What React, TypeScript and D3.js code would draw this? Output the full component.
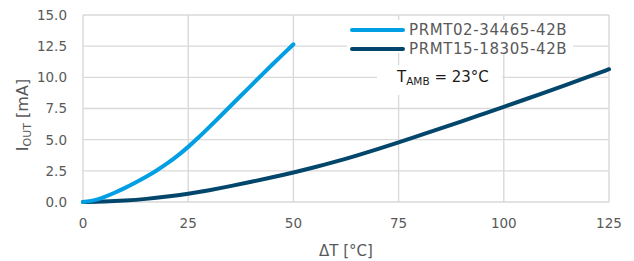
import { useEffect, useRef } from "react";
import * as d3 from "d3";

// ΔT [°C] vs I_OUT [mA]
const tempA = [0, 2.5, 5, 7.5, 10, 12.5, 15, 17.5, 20, 22.5, 25, 27.5, 30, 32.5, 35, 37.5, 40, 42.5, 45, 47.5, 50];
const currentA = [0, 0.1, 0.38, 0.74, 1.13, 1.56, 2.02, 2.52, 3.08, 3.71, 4.41, 5.18, 6.0, 6.84, 7.68, 8.52, 9.36, 10.2, 11.03, 11.85, 12.65];

const tempB = [0, 5, 10, 15, 20, 25, 30, 35, 40, 45, 50, 55, 60, 65, 70, 75, 80, 85, 90, 95, 100, 105, 110, 115, 120, 125];
const currentB = [0, 0.03, 0.11, 0.24, 0.43, 0.66, 0.94, 1.27, 1.62, 1.98, 2.36, 2.78, 3.23, 3.72, 4.24, 4.78, 5.34, 5.9, 6.47, 7.05, 7.63, 8.22, 8.82, 9.42, 10.03, 10.65];

const seriesNames = ["PRMT02-34465-42B", "PRMT15-18305-42B"];
const seriesColors = ["#009FE3", "#03466C"];

const xTicks = [0, 25, 50, 75, 100, 125];
const yTicks = [0, 2.5, 5, 7.5, 10, 12.5, 15];

const W = 634;
const H = 261;
const FONT = "'DejaVu Sans', sans-serif";

const App = () => {
  const ref = useRef<SVGSVGElement>(null);

  useEffect(() => {
    const svg = d3.select(ref.current);
    svg.selectAll("*").remove();

    const x = d3.scaleLinear().domain([0, 125]).range([83, 609]);
    const y = d3.scaleLinear().domain([0, 15]).range([202, 15]);

    // grid
    const grid = svg.append("g").attr("stroke", "#D9D9D9").attr("stroke-width", 1.4);
    grid.selectAll("line.h")
      .data(yTicks)
      .join("line")
      .attr("x1", x(0))
      .attr("x2", x(125))
      .attr("y1", (d) => y(d))
      .attr("y2", (d) => y(d));
    grid.selectAll("line.v")
      .data(xTicks)
      .join("line")
      .attr("class", "v")
      .attr("x1", (d) => x(d))
      .attr("x2", (d) => x(d))
      .attr("y1", y(0))
      .attr("y2", y(15));

    // white boxes behind legend and annotation
    svg.append("rect").attr("x", 347).attr("y", 20).attr("width", 226).attr("height", 33).attr("fill", "white");
    svg.append("rect").attr("x", 377).attr("y", 65).attr("width", 125).attr("height", 30).attr("fill", "white");

    const line = d3.line<[number, number]>()
      .x((d) => x(d[0]))
      .y((d) => y(d[1]))
      .curve(d3.curveBasis);

    const seriesData = [
      tempA.map((t, i) => [t, currentA[i]] as [number, number]),
      tempB.map((t, i) => [t, currentB[i]] as [number, number]),
    ];

    // dark series first so the light one sits on top near the origin
    [1, 0].forEach((i) => {
      svg.append("path")
        .datum(seriesData[i])
        .attr("d", line)
        .attr("fill", "none")
        .attr("stroke", seriesColors[i])
        .attr("stroke-width", 4)
        .attr("stroke-linecap", "round");
    });

    // tick labels
    svg.append("g")
      .selectAll("text")
      .data(yTicks)
      .join("text")
      .attr("x", 67)
      .attr("y", (d) => y(d))
      .attr("dy", "0.36em")
      .attr("text-anchor", "end")
      .attr("font-family", FONT)
      .attr("font-size", 13.5)
      .attr("fill", "#595959")
      .text((d) => d.toFixed(1));

    svg.append("g")
      .selectAll("text")
      .data(xTicks)
      .join("text")
      .attr("x", (d) => x(d))
      .attr("y", 228)
      .attr("text-anchor", "middle")
      .attr("font-family", FONT)
      .attr("font-size", 13.5)
      .attr("fill", "#595959")
      .text((d) => d);

    // axis titles
    svg.append("text")
      .attr("x", x(62.5))
      .attr("y", 256)
      .attr("text-anchor", "middle")
      .attr("font-family", FONT)
      .attr("font-size", 15)
      .attr("fill", "#595959")
      .text("ΔT [°C]");

    const yt = svg.append("text")
      .attr("transform", "translate(28,115) rotate(-90)")
      .attr("text-anchor", "middle")
      .attr("font-family", FONT)
      .attr("font-size", 16)
      .attr("fill", "#595959");
    yt.append("tspan").text("I");
    yt.append("tspan").attr("font-size", 11).attr("dy", 3).text("OUT");
    yt.append("tspan").attr("dy", -3).text(" [mA]");

    // legend
    seriesNames.forEach((name, i) => {
      const ly = 30 + i * 19;
      svg.append("line")
        .attr("x1", 352)
        .attr("x2", 403)
        .attr("y1", ly)
        .attr("y2", ly)
        .attr("stroke", seriesColors[i])
        .attr("stroke-width", 4)
        .attr("stroke-linecap", "round");
      svg.append("text")
        .attr("x", 409)
        .attr("y", ly)
        .attr("dy", "0.36em")
        .attr("font-family", FONT)
        .attr("font-size", 15)
        .attr("letter-spacing", 0.6)
        .attr("fill", "#595959")
        .text(name);
    });

    // annotation
    const ann = svg.append("text")
      .attr("x", 397)
      .attr("y", 82)
      .attr("font-family", FONT)
      .attr("font-size", 15)
      .attr("fill", "#1A1A1A");
    ann.append("tspan").text("T");
    ann.append("tspan").attr("font-size", 10.5).attr("dy", 3).text("AMB");
    ann.append("tspan").attr("dy", -3).text(" = 23°C");
  }, []);

  return (
    <div style={{ position: "fixed", left: 0, top: 0, width: W, height: H, background: "white" }}>
      <svg ref={ref} width={W} height={H} viewBox={`0 0 ${W} ${H}`} />
    </div>
  );
};

export default App;
